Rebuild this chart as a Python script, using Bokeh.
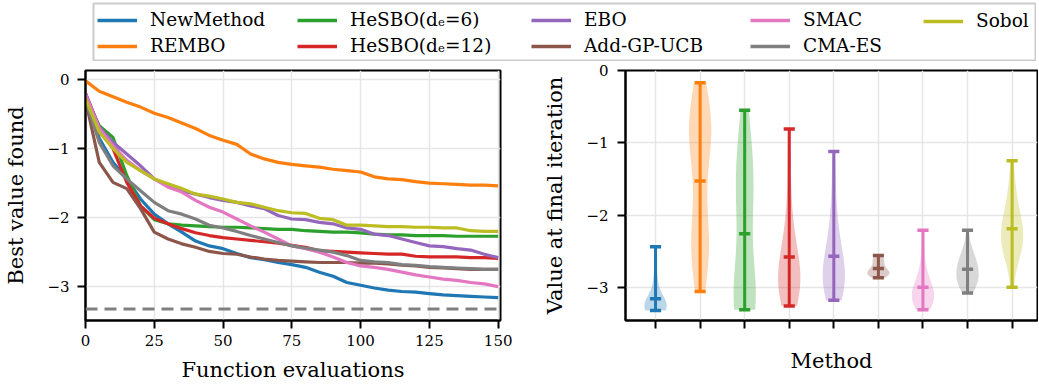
import numpy as np
from bokeh.plotting import figure
from bokeh.models import Range1d, FixedTicker, Span, Legend, LegendItem
from bokeh.layouts import column, row
from bokeh.embed import file_html
from bokeh.resources import INLINE

# ---------------- data ----------------
methods = ["NewMethod", "REMBO", "HeSBO(dₑ=6)", "HeSBO(dₑ=12)", "EBO",
           "Add-GP-UCB", "SMAC", "CMA-ES", "Sobol"]
colors = ["#1f77b4", "#ff7f0e", "#2ca02c", "#d62728", "#9467bd",
          "#8c564b", "#e377c2", "#7f7f7f", "#bcbd22"]

evals = [0, 5, 10, 15, 20, 25, 30, 35, 40, 45, 50, 55, 60, 65, 70, 75,
         80, 85, 90, 95, 100, 105, 110, 115, 120, 125, 130, 135, 140, 145, 150]

curve_newmethod = [-0.22, -0.85, -1.20, -1.44, -1.73, -1.95, -2.09, -2.21, -2.34, -2.41, -2.45, -2.52, -2.58, -2.61, -2.65, -2.68,
                   -2.72, -2.79, -2.85, -2.94, -2.98, -3.02, -3.05, -3.07, -3.08, -3.10, -3.12, -3.13, -3.14, -3.15, -3.16]
curve_rembo = [-0.02, -0.17, -0.25, -0.33, -0.40, -0.49, -0.55, -0.63, -0.71, -0.81, -0.88, -0.94, -1.08, -1.15, -1.20, -1.23,
               -1.25, -1.27, -1.30, -1.32, -1.34, -1.41, -1.44, -1.45, -1.48, -1.50, -1.51, -1.52, -1.53, -1.53, -1.54]
curve_hesbo6 = [-0.25, -0.67, -0.84, -1.39, -1.83, -2.03, -2.09, -2.11, -2.12, -2.13, -2.14, -2.14, -2.15, -2.16, -2.17, -2.17,
                -2.19, -2.20, -2.21, -2.21, -2.22, -2.24, -2.25, -2.25, -2.26, -2.26, -2.26, -2.27, -2.27, -2.27, -2.27]
curve_hesbo12 = [-0.20, -0.70, -1.00, -1.49, -1.83, -2.01, -2.09, -2.16, -2.22, -2.26, -2.29, -2.31, -2.33, -2.35, -2.37, -2.40,
                 -2.43, -2.48, -2.49, -2.50, -2.51, -2.52, -2.53, -2.53, -2.56, -2.57, -2.57, -2.57, -2.58, -2.58, -2.59]
curve_ebo = [-0.20, -0.69, -0.91, -1.08, -1.25, -1.44, -1.53, -1.61, -1.66, -1.71, -1.75, -1.78, -1.83, -1.87, -1.97, -2.02,
             -2.03, -2.07, -2.09, -2.15, -2.17, -2.24, -2.26, -2.31, -2.36, -2.41, -2.42, -2.45, -2.47, -2.53, -2.58]
curve_addgpucb = [-0.30, -1.20, -1.49, -1.58, -1.87, -2.21, -2.31, -2.38, -2.43, -2.49, -2.52, -2.53, -2.57, -2.60, -2.62, -2.63,
                  -2.64, -2.65, -2.65, -2.65, -2.66, -2.66, -2.67, -2.69, -2.70, -2.72, -2.73, -2.74, -2.75, -2.75, -2.75]
curve_smac = [-0.22, -0.71, -0.96, -1.17, -1.32, -1.44, -1.56, -1.63, -1.75, -1.85, -1.92, -2.02, -2.12, -2.21, -2.31, -2.41,
              -2.45, -2.50, -2.57, -2.65, -2.70, -2.72, -2.75, -2.79, -2.83, -2.86, -2.89, -2.91, -2.94, -2.96, -3.00]
curve_cmaes = [-0.30, -0.91, -1.25, -1.44, -1.61, -1.78, -1.90, -1.95, -2.02, -2.11, -2.15, -2.20, -2.26, -2.31, -2.36, -2.41,
               -2.44, -2.47, -2.50, -2.55, -2.62, -2.64, -2.65, -2.68, -2.69, -2.71, -2.72, -2.73, -2.74, -2.75, -2.75]
curve_sobol = [-0.28, -0.76, -1.00, -1.20, -1.32, -1.44, -1.51, -1.58, -1.66, -1.69, -1.73, -1.78, -1.80, -1.85, -1.90, -1.93,
               -1.94, -2.01, -2.03, -2.11, -2.11, -2.12, -2.13, -2.13, -2.14, -2.14, -2.15, -2.15, -2.19, -2.20, -2.20]

final_newmethod = [-3.32, -3.32, -3.32, -3.32, -3.32, -3.32, -3.32, -3.32, -3.20, -3.20,
                   -3.20, -3.20, -3.20, -3.20, -3.20, -3.10, -3.00, -2.90, -2.80, -2.44]
final_rembo = [-0.17, -0.45, -0.60, -0.70, -0.75, -0.80, -0.85, -0.90, -1.00, -1.10,
               -1.30, -1.90, -2.12, -2.20, -2.40, -2.50, -2.50, -2.60, -2.70, -3.06]
final_hesbo6 = [-0.55, -0.85, -1.05, -1.25, -1.40, -1.55, -1.65, -1.80, -1.95, -2.15,
                -2.45, -2.90, -3.00, -3.10, -3.18, -3.20, -3.25, -3.30, -3.31, -3.31]
final_hesbo12 = [-0.81, -1.30, -1.80, -2.10, -2.30, -2.41, -2.55, -2.62, -2.70, -2.75,
                 -2.80, -2.85, -2.90, -2.95, -3.00, -3.05, -3.10, -3.15, -3.20, -3.26]
final_ebo = [-1.12, -1.50, -1.87, -2.10, -2.25, -2.40, -2.50, -2.58, -2.65, -2.70,
             -2.75, -2.80, -2.85, -2.90, -2.95, -3.00, -3.05, -3.10, -3.15, -3.18]
final_addgpucb = [-2.56, -2.58, -2.60, -2.62, -2.64, -2.67, -2.70, -2.72, -2.75, -2.77,
                  -2.78, -2.79, -2.80, -2.80, -2.81, -2.82, -2.83, -2.84, -2.85, -2.87]
final_smac = [-2.21, -2.50, -2.70, -2.80, -2.88, -2.93, -2.97, -3.00, -3.03, -3.06,
              -3.09, -3.11, -3.13, -3.15, -3.17, -3.19, -3.23, -3.26, -3.28, -3.31]
final_cmaes = [-2.21, -2.42, -2.50, -2.55, -2.60, -2.63, -2.66, -2.70, -2.73, -2.76,
               -2.79, -2.82, -2.85, -2.88, -2.90, -2.92, -2.96, -3.00, -3.04, -3.08]
final_sobol = [-1.25, -1.55, -1.70, -1.82, -1.92, -2.00, -2.06, -2.12, -2.17, -2.22,
               -2.26, -2.30, -2.35, -2.38, -2.43, -2.47, -2.52, -2.60, -2.68, -3.00]

curves = [curve_newmethod, curve_rembo, curve_hesbo6, curve_hesbo12, curve_ebo,
          curve_addgpucb, curve_smac, curve_cmaes, curve_sobol]
finals = [final_newmethod, final_rembo, final_hesbo6, final_hesbo12, final_ebo,
          final_addgpucb, final_smac, final_cmaes, final_sobol]

optimum = -3.32237
x_ticks = [0, 25, 50, 75, 100, 125, 150]
y_ticks = [-3, -2, -1, 0]
y_tick_labels = ["−3", "−2", "−1", "0"]

# ---------------- style ----------------
FONT = "DejaVu Serif"
TICK_SIZE = "15px"
LABEL_SIZE = "21px"
LEGEND_SIZE = "18.5px"
GRID = "#e6e6e6"


def style_axes(p):
    p.outline_line_color = "black"
    p.outline_line_width = 2
    for ax in p.axis:
        ax.axis_line_width = 2
        ax.major_tick_line_width = 2
        ax.major_tick_out = 8
        ax.major_tick_in = 0
        ax.minor_tick_line_color = None
        ax.major_label_text_font = FONT
        ax.major_label_text_font_size = TICK_SIZE
        ax.major_label_text_color = "black"
        ax.axis_label_text_font = FONT
        ax.axis_label_text_font_size = LABEL_SIZE
        ax.axis_label_text_font_style = "normal"
        ax.axis_label_text_color = "black"
    for g in p.grid:
        g.grid_line_color = GRID
        g.grid_line_width = 1.5


# ---------------- legend strip ----------------
# the legend lives in its own strip; its renderers hold the real curves but the
# strip's x range lies outside the data so only the legend entries are visible
leg = figure(width=1036, height=61, x_range=Range1d(-20, -10), y_range=Range1d(0, 1),
             x_axis_type=None, y_axis_type=None, toolbar_location=None,
             min_border_left=93, min_border_right=1, min_border_top=3, min_border_bottom=1,
             output_backend="svg")
leg.grid.visible = False
leg.outline_line_color = "#cccccc"
leg.outline_line_width = 2

proxies = [leg.line(evals, ys, line_color=c, line_width=3.5) for c, ys in zip(colors, curves)]
legend_col_x = [4, 204, 438, 657, 830]
for k, cx in enumerate(legend_col_x):
    idx = [i for i in (2 * k, 2 * k + 1) if i < len(methods)]
    lg = Legend(items=[LegendItem(label=methods[i], renderers=[proxies[i]]) for i in idx],
                location=(cx, 4 + (20 + 5) * (2 - len(idx))), orientation="vertical",
                padding=0, margin=0, spacing=5, glyph_width=40, glyph_height=20, label_height=20,
                label_standoff=13, label_text_font=FONT, label_text_font_size=LEGEND_SIZE,
                label_text_color="black", border_line_alpha=0, background_fill_alpha=0)
    leg.add_layout(lg, "center")

# ---------------- left: convergence ----------------
left = figure(width=520, height=324, x_range=Range1d(0, 150.85), y_range=Range1d(-3.49, 0.13),
              toolbar_location=None, output_backend="svg",
              min_border_left=85, min_border_right=20, min_border_top=9, min_border_bottom=65)
for c, ys in zip(colors, curves):
    left.line(evals, ys, line_color=c, line_width=3.2)
left.add_layout(Span(location=optimum, dimension="width", line_color="#808080",
                     line_width=3, line_dash="12 7"))
left.xaxis.ticker = FixedTicker(ticks=x_ticks)
left.yaxis.ticker = FixedTicker(ticks=y_ticks)
left.yaxis.major_label_overrides = dict(zip(y_ticks, y_tick_labels))
left.xaxis.axis_label = "Function evaluations"
left.yaxis.axis_label = "Best value found"
style_axes(left)
left.xaxis.major_label_standoff = 6
left.xaxis.axis_label_standoff = 9
left.yaxis.major_label_standoff = 8
left.yaxis.axis_label_standoff = 16

# ---------------- right: violins ----------------
positions = np.arange(1, len(methods) + 1)
right = figure(width=518, height=324, x_range=Range1d(0.326, 9.57), y_range=Range1d(-3.46, 0.0),
               toolbar_location=None, output_backend="svg",
               min_border_left=105, min_border_right=1, min_border_top=9, min_border_bottom=65)

mins, maxs, means = [], [], []
for pos, c, s in zip(positions, colors, finals):
    s = np.asarray(s, dtype=float)
    bw = s.std(ddof=1) * s.size ** (-1.0 / 5.0)       # Scott's rule
    ys = np.linspace(s.min(), s.max(), 100)
    dens = np.exp(-0.5 * ((ys[:, None] - s[None, :]) / bw) ** 2).sum(axis=1)
    half = 0.25 * dens / dens.max()
    right.harea(y=ys, x1=pos - half, x2=pos + half, fill_color=c, fill_alpha=0.3)
    mins.append(s.min()); maxs.append(s.max()); means.append(s.mean())

cap = 0.125
right.segment(x0=positions, y0=mins, x1=positions, y1=maxs, line_color=colors, line_width=3)
for vals in (mins, maxs, means):
    right.segment(x0=positions - cap, y0=vals, x1=positions + cap, y1=vals,
                  line_color=colors, line_width=3.5)

right.xaxis.ticker = FixedTicker(ticks=list(positions))
right.yaxis.ticker = FixedTicker(ticks=y_ticks)
right.yaxis.major_label_overrides = dict(zip(y_ticks, y_tick_labels))
right.xaxis.axis_label = "Method"
right.yaxis.axis_label = "Value at final iteration"
style_axes(right)
right.xaxis.major_label_overrides = {int(p): "" for p in positions}
right.xaxis.major_label_standoff = 0
right.xaxis.axis_label_standoff = 20
right.yaxis.major_label_standoff = 9
right.yaxis.axis_label_standoff = 16

layout = column(leg, row(left, right))
open("out.html", "w").write(file_html(layout, INLINE))
